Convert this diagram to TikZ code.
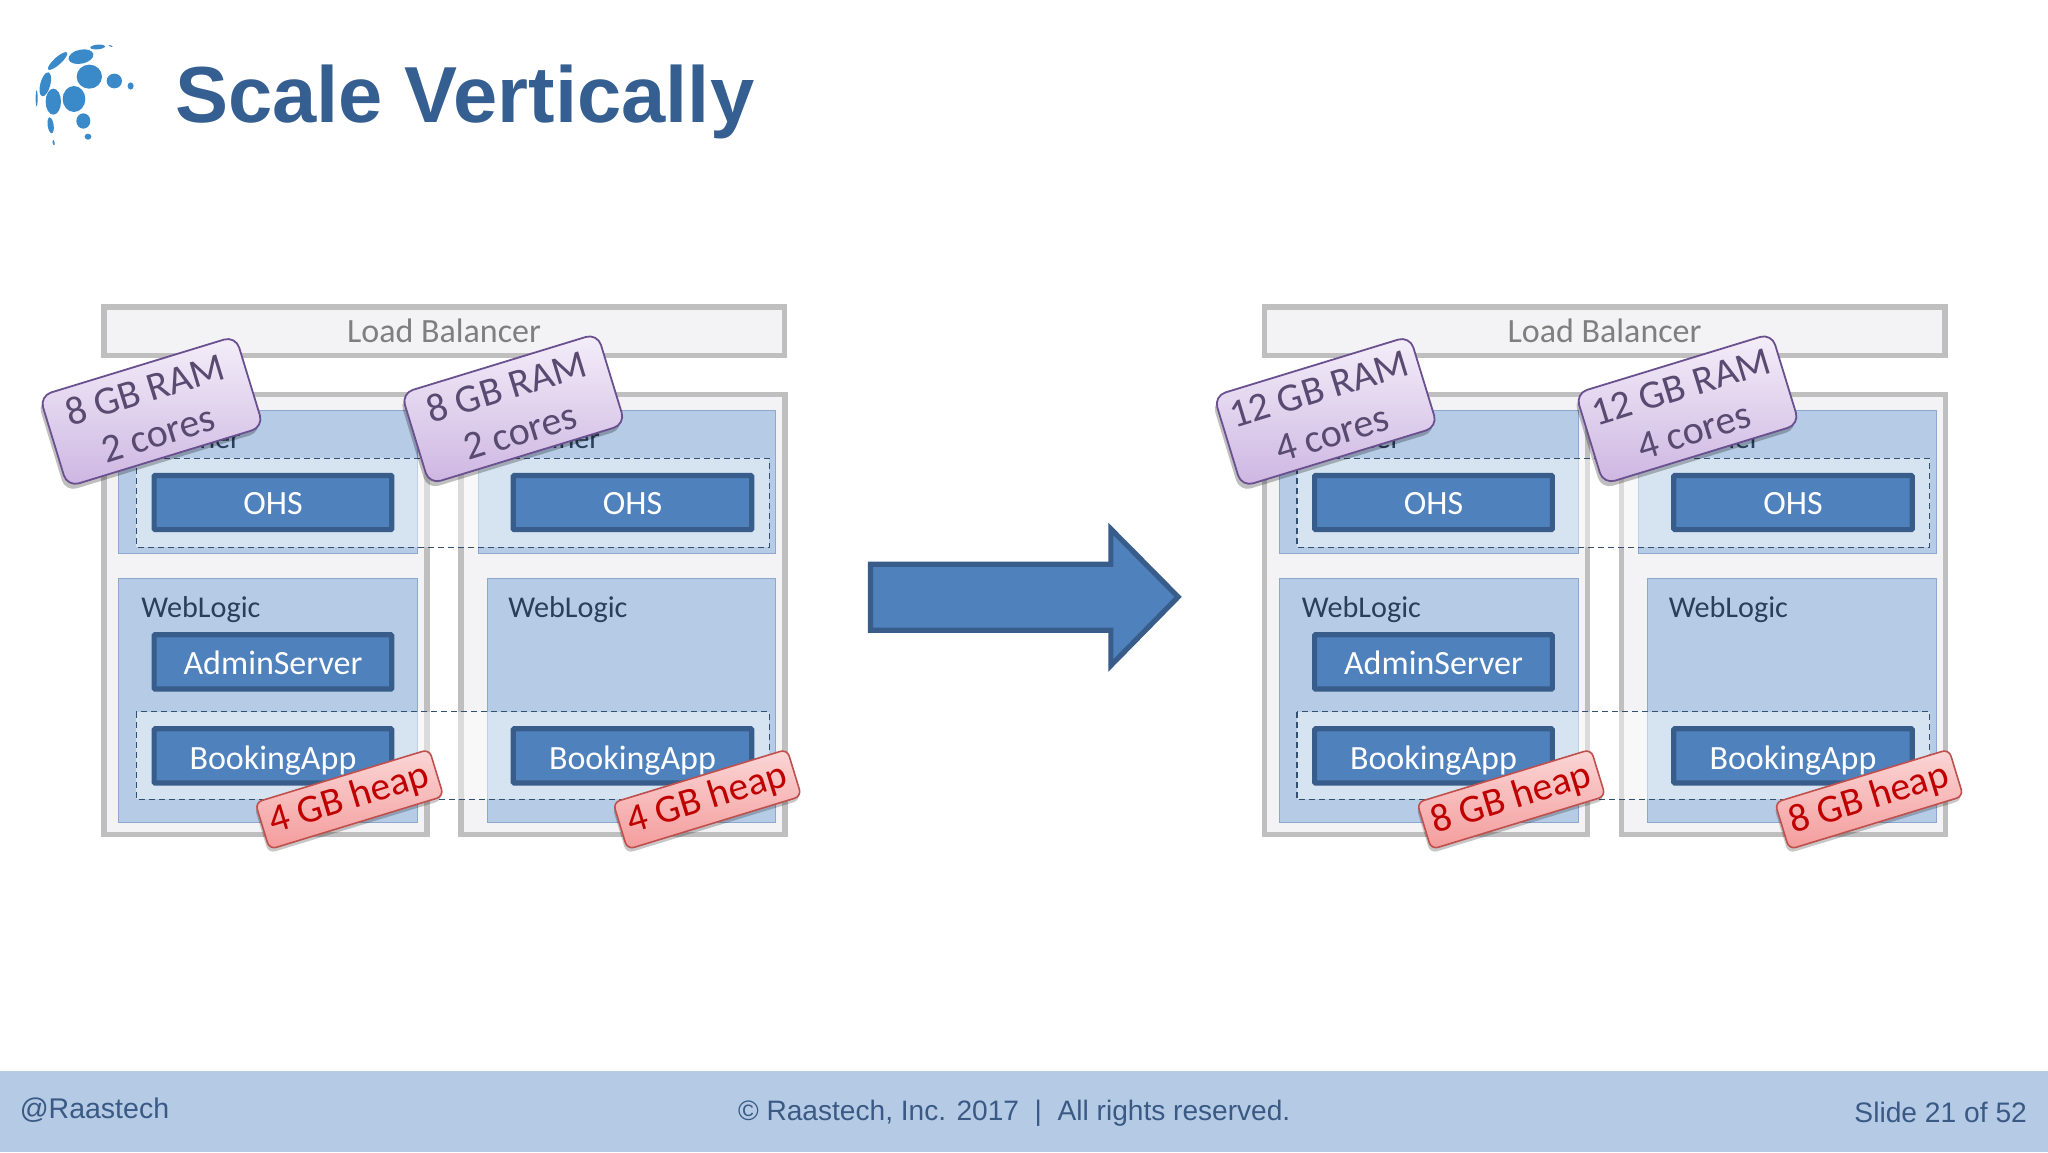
\documentclass[tikz,border=0pt]{standalone}
\usepackage{fontspec}
\setmainfont{Carlito}
\newfontfamily\arialf{Liberation Sans}
\usetikzlibrary{shadows}
\definecolor{titleblue}{HTML}{365F91}
\definecolor{logoblue}{HTML}{3A8AC9}
\definecolor{footerblue}{HTML}{B5CBE5}
\definecolor{footertext}{HTML}{3A5A85}
\definecolor{boxgrey}{HTML}{BFBFBF}
\definecolor{boxfill}{HTML}{F3F3F5}
\definecolor{lbtext}{HTML}{7F7F7F}
\definecolor{panelfill}{HTML}{B6CCE6}
\definecolor{panelline}{HTML}{8CA8CE}
\definecolor{paneltext}{HTML}{2A3F5C}
\definecolor{appfill}{HTML}{4F81BD}
\definecolor{appline}{HTML}{385D8A}
\definecolor{dashline}{HTML}{34506F}
\definecolor{purpletop}{HTML}{F4EEF9}
\definecolor{purplebot}{HTML}{CDB6E2}
\definecolor{purpleline}{HTML}{6B5090}
\definecolor{purpletext}{HTML}{584A70}
\definecolor{redtop}{HTML}{FBD6D6}
\definecolor{redbot}{HTML}{F49C9C}
\definecolor{redline}{HTML}{C0504D}
\definecolor{redtext}{HTML}{C00000}
\tikzset{
  x=1.306122pt,y=-1.306122pt,
  lbbox/.style={draw=boxgrey,line width=5.4pt,fill=boxfill},
  srvbox/.style={draw=boxgrey,line width=5.4pt,fill=boxfill},
  panel/.style={draw=panelline,line width=1pt,fill=panelfill},
  dashbox/.style={draw=dashline,line width=1.1pt,dashed,dash pattern=on 6pt off 4pt,fill=white,fill opacity=.45},
  appbox/.style={draw=appline,line width=5.2pt,fill=appfill,rounded corners=1pt},
  apptext/.style={text=white,font=\fontsize{34}{36}\selectfont,inner sep=0pt},
  lbtextstyle/.style={text=lbtext,font=\fontsize{34}{36}\selectfont,inner sep=0pt},
  paneltextstyle/.style={text=paneltext,anchor=west,font=\fontsize{30.2}{36}\selectfont,inner sep=0pt},
  ramtag/.style={rectangle,rounded corners=12pt,rotate=17,draw=purpleline,line width=1.8pt,
    top color=purpletop,bottom color=purplebot,minimum width=205pt,minimum height=95pt,inner sep=0pt,
    align=center,text=purpletext,font=\fontsize{40}{46}\selectfont,
    drop shadow={shadow xshift=-2pt,shadow yshift=-5pt,opacity=.25,fill=black}},
  heaptag/.style={rectangle,rounded corners=7pt,rotate=17,draw=redline,line width=1.6pt,
    top color=redtop,bottom color=redbot,minimum width=182pt,minimum height=49pt,inner sep=0pt,
    text=redtext,font=\fontsize{39.6}{46}\selectfont,
    drop shadow={shadow xshift=-1pt,shadow yshift=-4pt,opacity=.22,fill=black}},
  footertextstyle/.style={text=footertext,font=\arialf\fontsize{28.5}{32}\selectfont,inner sep=0pt},
  logodot/.style={fill=logoblue}
}
\newcommand{\ldot}[5]{\fill[logodot,shift={(#1,#2)},rotate=#5] (0,0) ellipse (#3 and #4);}
\newcommand{\vmgroup}[1]{%
  \draw[lbbox] (79.5,235) rectangle node[lbtextstyle] (#1lb) {Load Balancer} (600.5,272);
  \draw[srvbox] (79.5,302) rectangle (327,639);
  \draw[srvbox] (353,302) rectangle (601,639);
  \draw[panel] (91,314) rectangle (320,424);
  \draw[panel] (366,314) rectangle (594,424);
  \draw[panel] (91,443) rectangle (320,630);
  \draw[panel] (373,443) rectangle (594,630);
  \node[paneltextstyle,anchor=base east] (#1ca) at (184.5,343.5) {Container};
  \node[paneltextstyle,anchor=base east] (#1cb) at (459.5,343.5) {Container};
  \node[paneltextstyle] (#1wa) at (108,467) {WebLogic};
  \node[paneltextstyle] (#1wb) at (389,467) {WebLogic};
  \draw[dashbox] (104.5,351) rectangle (589,419);
  \draw[dashbox] (104.5,545) rectangle (589,612);
  \draw[appbox] (118,364) rectangle node[apptext,yshift=-1.5pt] (#1oa) {OHS} (300,405.5);
  \draw[appbox] (393,364) rectangle node[apptext,yshift=-1.5pt] (#1ob) {OHS} (575.5,405.5);
  \draw[appbox] (118,486) rectangle node[apptext,yshift=-0.8pt] (#1as) {AdminServer} (300,527.5);
  \draw[appbox] (118,558) rectangle node[apptext,yshift=-4.5pt] (#1ba) {BookingApp} (300,599.5);
  \draw[appbox] (393,558) rectangle node[apptext,yshift=-4.5pt] (#1bb) {BookingApp} (575.5,599.5);
}
\begin{document}
\begin{tikzpicture}
\useasboundingbox (0,0) rectangle (1568,882);
\fill[white] (0,0) rectangle (1568,882);
% logo
\begin{scope}[shift={(20pt,-30pt)},x=0.3333pt,y=-0.3333pt]
\ldot{208}{140}{38}{36}{0}
\ldot{162}{207}{34}{39}{0}
\ldot{100}{215}{23}{39}{0}
\ldot{183}{80}{38}{21}{12}
\ldot{113}{93}{38}{11}{42}
\ldot{76}{163}{15}{37}{-15}
\ldot{283}{153}{23}{22}{0}
\ldot{332}{168}{9}{11}{0}
\ldot{190}{273}{21}{23}{0}
\ldot{92}{286}{9}{24}{8}
\ldot{204}{320}{10}{9}{0}
\ldot{233}{51}{22}{7}{5}
\ldot{50}{205}{3}{24}{0}
\ldot{272}{48}{6}{2}{-15}
\ldot{101}{338}{3}{8}{10}
\end{scope}
% title
\node[anchor=base west,inner sep=0pt,text=titleblue,font=\arialf\bfseries\fontsize{79.5}{90}\selectfont] (title) at (134,94) {Scale Vertically};
% groups
\vmgroup{l}
\begin{scope}[xshift=1160.5pt]
\vmgroup{r}
\end{scope}
% tags
\node[ramtag] (ram1) at (116,315) {8 GB RAM\\2 cores};
\node[ramtag] (ram2) at (393,313) {8 GB RAM\\2 cores};
\node[ramtag] (ram3) at (1015,315) {12 GB RAM\\4 cores};
\node[ramtag] (ram4) at (1292,313) {12 GB RAM\\4 cores};
\node[heaptag] (heap1) at (267.5,612) {4 GB heap};
\node[heaptag] (heap2) at (541.5,612) {4 GB heap};
\node[heaptag] (heap3) at (1157,612) {8 GB heap};
\node[heaptag] (heap4) at (1431,612) {8 GB heap};
% arrow
\draw[draw=appline,line width=5.2pt,fill=appfill,miter limit=10]
  (666.5,432) -- (850.5,432) -- (850.5,405) -- (902,457) -- (850.5,509.5) -- (850.5,482.5) -- (666.5,482.5) -- cycle;
% footer
\fill[footerblue] (0,820) rectangle (1568,882);
\node[footertextstyle,anchor=west] (handle) at (15,850) {@Raastech};
\node[footertextstyle,font=\arialf\fontsize{28.1}{32}\selectfont] (copy) at (776.5,852) {© Raastech, Inc. 2017\ \ |\ \ All rights reserved.};
\node[footertextstyle,anchor=east,font=\arialf\fontsize{28.2}{32}\selectfont] (slide) at (1552,851.5) {Slide 21 of 52};
\end{tikzpicture}
\end{document}
